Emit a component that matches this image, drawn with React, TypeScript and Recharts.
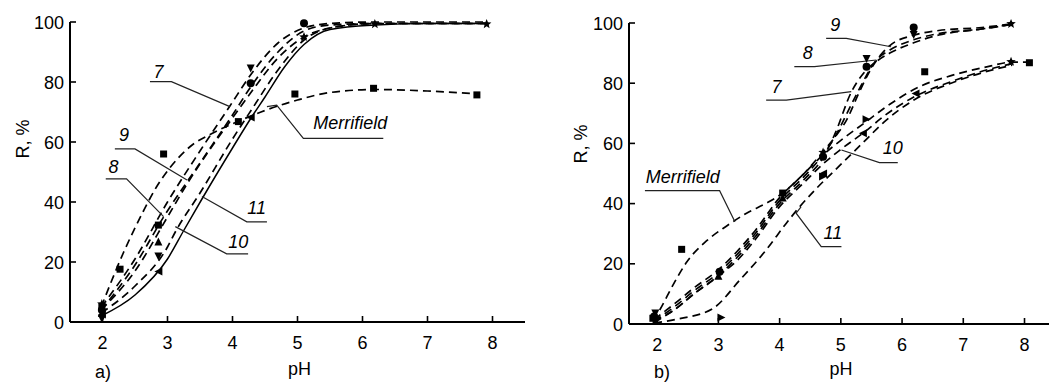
import { ComposedChart, Line, Scatter, XAxis, YAxis } from "recharts";

const FONT = '"Liberation Sans", Arial, Helvetica, sans-serif';

const phTicks = [2, 3, 4, 5, 6, 7, 8];
const rTicks = [0, 20, 40, 60, 80, 100];

// ---- panel a) curves, [pH, R %]
const a7 = [[1.98, 5], [2.5, 21], [3.0, 40], [3.5, 57], [3.96, 72], [4.3, 83], [4.7, 93], [5.1, 98], [5.5, 99.5], [6.2, 100], [7, 100], [7.9, 100]];
const a8 = [[1.98, 4], [2.5, 19], [2.94, 35], [3.5, 53], [4.0, 69], [4.3, 79], [4.7, 90], [5.1, 97], [5.5, 99], [6.2, 99.5], [7, 99.5], [7.9, 99.5]];
const a9 = [[1.98, 4], [2.5, 17], [3.0, 35], [3.3, 46], [3.7, 59], [4.0, 68], [4.3, 77], [4.7, 88], [5.1, 95], [5.5, 98], [6.2, 99.5], [7, 99.5], [7.9, 99.5]];
const a10 = [[1.98, 3], [2.5, 12], [3.0, 25], [3.12, 30], [3.5, 43], [4.0, 61], [4.3, 71], [4.7, 84], [5.1, 94], [5.5, 98], [6.2, 99.5], [7, 99.5], [7.9, 99.5]];
const a11 = [[1.98, 2], [2.5, 9], [3.0, 21], [3.25, 30.5], [3.53, 41], [4.0, 58], [4.3, 68.5], [4.5, 75], [4.8, 85], [5.1, 92.5], [5.5, 97.5], [6.2, 99], [7, 99.5], [7.9, 99.5]];
const aMerr = [[1.98, 5], [2.32, 23], [2.63, 37], [2.83, 45], [3.04, 51.5], [3.35, 58.5], [3.7, 63], [4.1, 67], [4.5, 70.5], [5.0, 74], [5.5, 76.5], [6.2, 77.5], [7.0, 77], [7.8, 76]];

// panel a) measured points
const aSquare = [[1.99, 5], [2.27, 17.6], [2.86, 32.3], [2.94, 56], [4.09, 66.8], [4.96, 76], [6.17, 77.9], [7.76, 75.7]];
const aCircle = [[1.99, 4], [4.28, 79.6], [5.1, 99.6]];
const aUp = [[1.99, 3], [2.86, 26.8]];
const aDown = [[1.99, 1], [2.86, 21.8], [4.28, 84.5]];
const aLeft = [[1.99, 2.5], [2.86, 16.8], [4.28, 68.2]];
const aStar = [[1.99, 6], [5.1, 95], [6.19, 99.3], [7.91, 99.3]];

// panel a) curve labels and leaders
const aLabels = [
  { x: 2.86, y: 83.4, t: "7" },
  { x: 2.33, y: 62.3, t: "9" },
  { x: 2.17, y: 51.8, t: "8" },
  { x: 4.37, y: 37.9, t: "11" },
  { x: 4.09, y: 26.8, t: "10" },
  { x: 5.81, y: 66.2, t: "Merrifield" },
];
const aLeaders = [
  [[2.73, 80.1], [3.06, 80.1], [3.96, 71.8]],
  [[2.19, 57.7], [2.5, 57.7], [3.3, 47.3]],
  [[2.05, 47.7], [2.37, 47.7], [2.94, 35.1]],
  [[3.53, 41.8], [4.22, 33.4], [4.53, 33.4]],
  [[3.12, 31.8], [3.91, 22.7], [4.24, 22.7]],
  [[4.53, 71.8], [4.68, 72.3], [5.09, 61.2], [6.32, 61.2]],
];

// ---- panel b) curves
const b7 = [[1.95, 0.5], [2.3, 5], [2.6, 10], [3.0, 16], [3.3, 22], [3.6, 29], [4.0, 40], [4.4, 48], [4.7, 55], [4.9, 63], [5.17, 77], [5.4, 84], [5.6, 87.5], [5.8, 90], [6.2, 93.5], [6.6, 96], [7.3, 98], [7.78, 99.5]];
const b8 = [[1.95, 1], [2.3, 6], [2.6, 11], [3.0, 17], [3.3, 23], [3.6, 30], [4.0, 41], [4.4, 49], [4.7, 56], [4.9, 62], [5.1, 70], [5.3, 78], [5.58, 87.7], [5.8, 91], [6.2, 94.5], [6.6, 96.5], [7.3, 98], [7.78, 99.5]];
const b9 = [[1.95, 1.5], [2.3, 7], [2.6, 12], [3.0, 18], [3.3, 24], [3.6, 31], [4.0, 42], [4.4, 50], [4.7, 57], [4.9, 62], [5.1, 68], [5.3, 77], [5.5, 85], [5.8, 92.5], [6.2, 96], [6.6, 97.5], [7.3, 98.5], [7.78, 99.7]];
const b10 = [[1.95, 1], [2.3, 5], [2.6, 10], [3.0, 16], [3.3, 21], [3.6, 28], [4.0, 39], [4.4, 47], [4.7, 53], [5.0, 58], [5.4, 64], [5.7, 69], [6.2, 75.5], [6.8, 80.5], [7.4, 84.5], [7.8, 86.5]];
const b11 = [[1.95, 0.3], [2.3, 1.5], [2.9, 5], [3.35, 14.6], [3.78, 24.6], [4.11, 33.5], [4.33, 39], [4.6, 45], [5.0, 53], [5.4, 61], [5.7, 67], [6.2, 74.5], [6.8, 80], [7.4, 84], [7.8, 86]];
const bMerr = [[1.93, 1], [2.04, 4.6], [2.26, 13], [2.48, 20.5], [2.8, 27.5], [3.13, 32.5], [3.46, 36.8], [3.78, 40.1], [4.05, 43.5], [4.4, 50], [4.7, 56], [5.0, 61], [5.4, 67], [5.8, 73], [6.3, 79], [6.8, 82.5], [7.4, 85.5], [7.8, 87], [8.1, 87]];

// panel b) measured points
const bSquare = [[1.93, 1.9], [2.4, 24.8], [4.05, 43.5], [6.37, 83.8], [8.08, 86.8]];
const bCircle = [[1.95, 2.5], [3.02, 17.4], [4.71, 55.6], [5.42, 85.5], [6.19, 98.5]];
const bUp = [[1.97, 1], [3.0, 16], [4.05, 42]];
const bDown = [[1.97, 3.5], [5.42, 88], [6.19, 96]];
const bRight = [[3.05, 2.2], [4.71, 49], [5.42, 68]];
const bLeft = [[4.71, 50], [5.36, 63.4], [6.22, 76.6]];
const bStar = [[1.97, 2], [4.71, 57], [7.78, 87.1], [7.78, 99.7]];

const bLabels = [
  { x: 4.91, y: 99.3, t: "9" },
  { x: 4.46, y: 89.9, t: "8" },
  { x: 3.95, y: 78.8, t: "7" },
  { x: 5.85, y: 58.4, t: "10" },
  { x: 4.87, y: 30.1, t: "11" },
  { x: 2.42, y: 48.9, t: "Merrifield" },
];
const bLeaders = [
  [[4.76, 94.9], [5.09, 94.9], [5.82, 92.1]],
  [[4.24, 85.5], [4.57, 85.5], [5.58, 87.7]],
  [[3.78, 74.4], [4.11, 74.4], [5.17, 77.2]],
  [[5.01, 57.8], [5.63, 53.6], [5.93, 53.6]],
  [[4.35, 38.9], [4.27, 36.8], [4.68, 25.7], [5.01, 25.7]],
  [[1.8, 44.3], [3.02, 44.3], [3.27, 34]],
];

const xy = (a: number[][]) => a.map(([x, y]) => ({ x, y }));

const marker = (kind: string) => (p: any) => {
  const { cx, cy } = p;
  const s = 4;
  if (cx == null || cy == null) return <g />;
  switch (kind) {
    case "sq":
      return <rect x={cx - 3.5} y={cy - 3.5} width={7} height={7} fill="#000" />;
    case "circ":
      return <circle cx={cx} cy={cy} r={4} fill="#000" />;
    case "up":
      return <polygon points={`${cx},${cy - s} ${cx + s},${cy + s} ${cx - s},${cy + s}`} fill="#000" />;
    case "down":
      return <polygon points={`${cx - s},${cy - s} ${cx + s},${cy - s} ${cx},${cy + s}`} fill="#000" />;
    case "left":
      return <polygon points={`${cx - s},${cy} ${cx + s},${cy - s} ${cx + s},${cy + s}`} fill="#000" />;
    case "right":
      return <polygon points={`${cx + s},${cy} ${cx - s},${cy - s} ${cx - s},${cy + s}`} fill="#000" />;
    default: {
      const pts = [];
      for (let i = 0; i < 10; i++) {
        const r = i % 2 === 0 ? 5 : 2.2;
        const a = -Math.PI / 2 + (i * Math.PI) / 5;
        pts.push(`${cx + r * Math.cos(a)},${cy + r * Math.sin(a)}`);
      }
      return <polygon points={pts.join(" ")} fill="#000" />;
    }
  }
};

const textMark = (p: any) => (
  <text
    x={p.cx}
    y={p.cy}
    textAnchor="middle"
    dominantBaseline="central"
    fontSize={18}
    fontStyle="italic"
    fontFamily={FONT}
    fill="#000"
  >
    {p.payload.t}
  </text>
);

const XTick = (p: any) => (
  <g>
    <line x1={p.x} x2={p.x} y1={p.y} y2={p.y - 6} stroke="#000" strokeWidth={1.6} />
    <text x={p.x} y={p.y + 27} textAnchor="middle" fontSize={18} fontFamily={FONT} fill="#000">
      {p.payload.value}
    </text>
  </g>
);

const YTick = (p: any) => (
  <g>
    <line x1={p.x} x2={p.x + 6} y1={p.y} y2={p.y} stroke="#000" strokeWidth={1.6} />
    <text x={p.x - 6} y={p.y + 6.5} textAnchor="end" fontSize={18} fontFamily={FONT} fill="#000">
      {p.payload.value}
    </text>
  </g>
);

const dash = { stroke: "#000", strokeWidth: 1.7, strokeDasharray: "8 5" };

function Panel(props: {
  left: number;
  width: number;
  top: number;
  yWidth: number;
  xHeight: number;
  domain: [number, number];
  curves: number[][][];
  solid: number[][] | null;
  marks: [string, number[][]][];
  labels: { x: number; y: number; t: string }[];
  leaders: number[][][];
  tag: string;
  rDx: number;
  rDy: number;
}) {
  return (
    <div style={{ position: "absolute", left: props.left, top: 0 }}>
      <ComposedChart
        width={props.width}
        height={383}
        margin={{ top: props.top, right: 0, bottom: 0, left: 0 }}
      >
        <XAxis
          type="number"
          dataKey="x"
          domain={props.domain}
          ticks={phTicks}
          tick={XTick}
          tickSize={0}
          tickMargin={0}
          tickLine={false}
          height={props.xHeight}
          axisLine={{ stroke: "#000", strokeWidth: 2 }}
          label={(lp: any) => {
            const vb = lp.viewBox;
            return (
              <g>
                <text x={vb.x + vb.width / 2 + 2} y={vb.y + vb.height - 8} textAnchor="middle" fontSize={18} fontFamily={FONT} fill="#000">
                  pH
                </text>
                <text x={vb.x + 25} y={vb.y + vb.height - 5} textAnchor="start" fontSize={18} fontFamily={FONT} fill="#000">
                  {props.tag}
                </text>
              </g>
            );
          }}
        />
        <YAxis
          type="number"
          dataKey="y"
          domain={[0, 100]}
          ticks={rTicks}
          tick={YTick}
          tickSize={0}
          tickMargin={0}
          tickLine={false}
          width={props.yWidth}
          axisLine={{ stroke: "#000", strokeWidth: 2 }}
          label={(lp: any) => {
            const vb = lp.viewBox;
            return (
              <text
                transform={`translate(${vb.x + props.rDx}, ${vb.y + props.rDy}) rotate(-90)`}
                textAnchor="middle"
                dominantBaseline="central"
                fontSize={18}
                fontFamily={FONT}
                fill="#000"
              >
                R, %
              </text>
            );
          }}
        />
        {props.curves.map((c, i) => (
          <Line
            key={"c" + i}
            data={xy(c)}
            dataKey="y"
            type="monotone"
            dot={false}
            activeDot={false}
            isAnimationActive={false}
            {...dash}
          />
        ))}
        {props.solid && (
          <Line
            data={xy(props.solid)}
            dataKey="y"
            type="monotone"
            dot={false}
            activeDot={false}
            isAnimationActive={false}
            stroke="#000"
            strokeWidth={1.5}
          />
        )}
        {props.leaders.map((l, i) => (
          <Line
            key={"l" + i}
            data={xy(l)}
            dataKey="y"
            type="linear"
            dot={false}
            activeDot={false}
            isAnimationActive={false}
            stroke="#222"
            strokeWidth={1.2}
          />
        ))}
        {props.marks.map(([k, d]) => (
          <Scatter key={k} data={xy(d)} shape={marker(k)} isAnimationActive={false} />
        ))}
        <Scatter data={props.labels} shape={textMark} isAnimationActive={false} />
      </ComposedChart>
    </div>
  );
}

export default function App() {
  return (
    <div style={{ position: "absolute", left: 0, top: 0, width: 1049, height: 383, background: "#fff", overflow: "hidden" }}>
      <Panel
        left={0}
        width={525}
        top={22}
        yWidth={70}
        xHeight={61}
        domain={[1.5, 8.5]}
        curves={[a7, a8, a9, a10, aMerr]}
        solid={a11}
        marks={[["sq", aSquare], ["circ", aCircle], ["up", aUp], ["down", aDown], ["left", aLeft], ["star", aStar]]}
        labels={aLabels}
        leaders={aLeaders}
        tag="a)"
        rDx={22.5}
        rDy={117}
      />
      <Panel
        left={530}
        width={519}
        top={23}
        yWidth={99}
        xHeight={59}
        domain={[1.54, 8.4]}
        curves={[b7, b8, b9, b10, b11, bMerr]}
        solid={null}
        marks={[["sq", bSquare], ["circ", bCircle], ["up", bUp], ["down", bDown], ["right", bRight], ["left", bLeft], ["star", bStar]]}
        labels={bLabels}
        leaders={bLeaders}
        tag="b)"
        rDx={51}
        rDy={121}
      />
    </div>
  );
}
